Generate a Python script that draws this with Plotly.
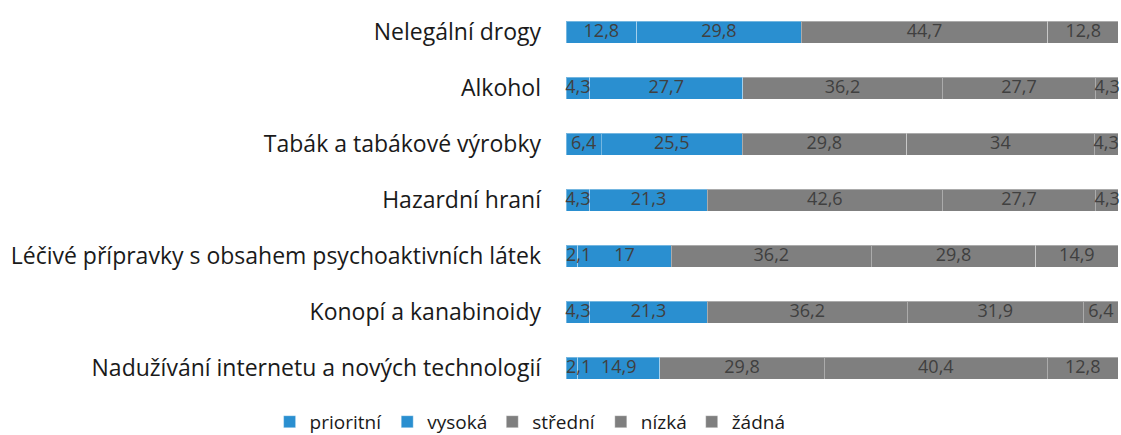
import plotly.graph_objects as go

categories = [
    "Nelegální drogy",
    "Alkohol",
    "Tabák a tabákové výrobky",
    "Hazardní hraní",
    "Léčivé přípravky s obsahem psychoaktivních látek",
    "Konopí a kanabinoidy",
    "Nadužívání internetu a nových technologií",
]
series_names = ["prioritní", "vysoká", "střední", "nízká", "žádná"]
prioritni = [12.8, 4.3, 6.4, 4.3, 2.1, 4.3, 2.1]
vysoka = [29.8, 27.7, 25.5, 21.3, 17, 21.3, 14.9]
stredni = [44.7, 36.2, 29.8, 42.6, 36.2, 36.2, 29.8]
nizka = [12.8, 27.7, 34, 27.7, 29.8, 31.9, 40.4]
zadna = [0, 4.3, 4.3, 4.3, 14.9, 6.4, 12.8]
series_values = [prioritni, vysoka, stredni, nizka, zadna]
colors = ["#2a8fd0", "#2a8fd0", "#7f7f7f", "#7f7f7f", "#7f7f7f"]


def fmt(v):
    return f"{v:g}".replace(".", ",") if v else ""


fig = go.Figure()
for name, vals, col in zip(series_names, series_values, colors):
    fig.add_trace(go.Bar(
        y=categories, x=vals, name=name, orientation="h",
        marker=dict(color=col, line=dict(color="rgba(255,255,255,0.35)", width=1)),
        hoverinfo="skip",
    ))

# data labels as a text layer above all bars
base = [0.0] * len(categories)
lab_x, lab_y, lab_t, lab_pos = [], [], [], []
for vals in series_values:
    for i, v in enumerate(vals):
        if v:
            narrow = v < 3
            lab_x.append(base[i] if narrow else base[i] + v / 2)
            lab_y.append(categories[i])
            lab_t.append(fmt(v))
            lab_pos.append("middle right" if narrow else "middle center")
        base[i] += v
fig.add_trace(go.Scatter(
    x=lab_x, y=lab_y, text=lab_t, mode="text", textposition=lab_pos,
    textfont=dict(family="Open Sans", size=18, color="#404040"),
    showlegend=False, hoverinfo="skip", cliponaxis=False,
))

fig.update_layout(
    barmode="stack",
    width=1121, height=435,
    margin=dict(l=566, r=3, t=4, b=39, autoexpand=False),
    bargap=0.607,
    plot_bgcolor="white", paper_bgcolor="white",
    font=dict(family="Open Sans", color="#1a1a1a"),
    showlegend=True,
    legend=dict(orientation="h", x=-0.065, xanchor="center",
                y=-0.066, yanchor="middle",
                font=dict(family="Open Sans", size=19, color="#1a1a1a"),
                traceorder="normal"),
)
fig.update_xaxes(range=[0, 100], visible=False)
fig.update_yaxes(autorange="reversed", showline=False, showgrid=False,
                 ticklabelstandoff=24,
                 tickfont=dict(family="Open Sans", size=23, color="#1a1a1a"))

fig.write_html("out.html", config={"displayModeBar": False},
               post_script="document.body.style.margin='0';document.body.style.overflow='hidden';")
